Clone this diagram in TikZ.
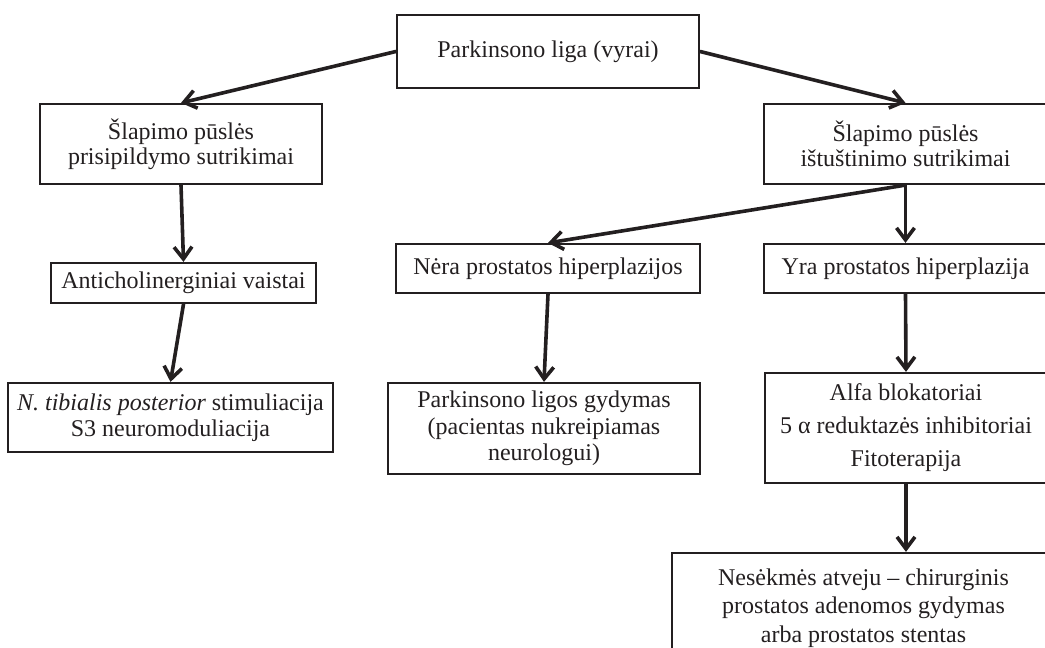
\documentclass[tikz,border=0pt]{standalone}
\usepackage{fontspec}
\setmainfont{Liberation Serif}
\usepackage{tikz}
\usetikzlibrary{arrows.meta}
\definecolor{ink}{HTML}{231F20}
\tikzset{
  box/.style={draw=ink, line width=1.1pt, text=ink, align=center, inner sep=0pt,
    font=\fontsize{12}{13.2}\selectfont},
  arr/.style={draw=ink, line width=1.8pt, line cap=round,
    -{Straight Barb[length=6pt,width=9pt,line width=1.8pt]}},
}

\begin{document}
\begin{tikzpicture}[x=0.5pt,y=-0.5pt]
  \useasboundingbox (0,0) rectangle (1045,648);
  % boxes
  \node[box, minimum width=151pt, minimum height=36.5pt] (liga) at (548,51.5) {Parkinsono liga (vyrai)};
  \node[box, minimum width=141pt, minimum height=40pt, font=\fontsize{12}{12.5}\selectfont] (kaup) at (181,144) {Šlapimo pūslės\\prisipildymo sutrikimai};
  \node[box, minimum width=141.5pt, minimum height=40pt, font=\fontsize{12}{12.5}\selectfont] (tust) at (905.5,144) {Šlapimo pūslės\\ištuštinimo sutrikimai};
  \node[box, minimum width=132.5pt, minimum height=20pt] (anti) at (183.5,283) {Anticholinerginiai vaistai};
  \node[box, minimum width=152pt, minimum height=24.5pt] (nera) at (548,268.5) {Nėra prostatos hiperplazijos};
  \node[box, minimum width=141.5pt, minimum height=24.5pt] (yra) at (905.5,268.5) {Yra prostatos hiperplazija};
  \node[box, minimum width=162.5pt, minimum height=34.5pt] (tib) at (170.5,417.5) {\textit{N. tibialis posterior} stimuliacija\\S3 neuromoduliacija};
  \node[box, minimum width=156pt, minimum height=45.5pt] (neuro) at (544,428.5) {Parkinsono ligos gydymas\\(pacientas nukreipiamas\\neurologui)};
  \node[box, minimum width=141pt, minimum height=55pt, font=\fontsize{12}{16.5}\selectfont] (alfa) at (906,428) {Alfa blokatoriai\\5 α reduktazės inhibitoriai\\Fitoterapija};
  \node[box, minimum width=191.5pt, minimum height=55pt, font=\fontsize{12}{14.2}\selectfont] (oper) at (863.5,608) {Nesėkmės atveju – chirurginis\\prostatos adenomos gydymas\\arba prostatos stentas};
  % arrows
  \draw[arr] (liga.west) -- (kaup.north);
  \draw[arr] (liga.east) -- (tust.north);
  \draw[arr] (kaup.south) -- (anti.north);
  \draw[arr] (anti.south) -- (tib.north);
  \draw[arr] (tust.south) -- (nera.north);
  \draw[arr] (tust.south) -- (yra.north);
  \draw[arr] (nera.south) -- (neuro.north);
  \draw[arr] (yra.south) -- (alfa.north);
  \draw[arr] (alfa.south) -- (alfa.south |- oper.north);
\end{tikzpicture}
\end{document}
